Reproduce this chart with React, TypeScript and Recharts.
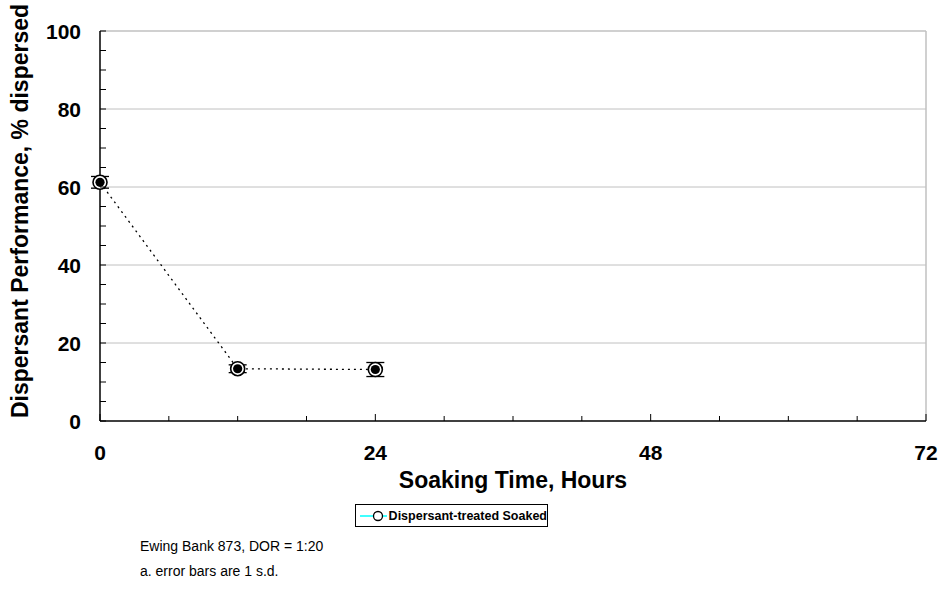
import {
  ComposedChart, Line, XAxis, YAxis, ReferenceLine, ErrorBar, Label,
} from 'recharts';

const hours = [0, 12, 24];
const performance = [61.2, 13.4, 13.2];
const stdDev = [1.5, 1.0, 1.8];

const xTicks = [0, 6, 12, 18, 24, 30, 36, 42, 48, 54, 60, 66, 72];
const xLabels = [0, 24, 48, 72];
const yTicks = [0, 5, 10, 15, 20, 25, 30, 35, 40, 45, 50, 55, 60, 65, 70, 75, 80, 85, 90, 95, 100];
const yLabels = [0, 20, 40, 60, 80, 100];
const gridLines = [20, 40, 60, 80];

const seriesName = 'Dispersant-treated Soaked';
const notes = ['Ewing Bank 873, DOR = 1:20', 'a. error bars are 1 s.d.'];

const data = hours.map((h, i) => ({ x: h, y: performance[i], sd: stdDev[i] }));

const FONT = 'Arial, "Liberation Sans", Helvetica, sans-serif';

const XTick = (props: any) => {
  const { x, y, payload } = props;
  const major = xLabels.includes(payload.value);
  return (
    <g>
      <line x1={x} x2={x} y1={y} y2={y - (major ? 7 : 5)} stroke="#000" strokeWidth={1} />
      {major && (
        <text x={x} y={y + 39} textAnchor="middle" fontFamily={FONT} fontWeight="bold" fontSize={21} fill="#000">
          {payload.value}
        </text>
      )}
    </g>
  );
};

const YTick = (props: any) => {
  const { x, y, payload } = props;
  const major = yLabels.includes(payload.value);
  return (
    <g>
      <line x1={x} x2={x + 6} y1={y} y2={y} stroke="#000" strokeWidth={1} />
      {major && (
        <text x={x - 19} y={y + 7.5} textAnchor="end" fontFamily={FONT} fontWeight="bold" fontSize={21} fill="#000">
          {payload.value}
        </text>
      )}
    </g>
  );
};

const Marker = (props: any) => {
  const { cx, cy } = props;
  if (cx == null || cy == null) return null;
  return (
    <g>
      <circle cx={cx} cy={cy} r={7} fill="#fff" stroke="#000" strokeWidth={1.6} />
      <circle cx={cx} cy={cy} r={4.6} fill="#000" />
    </g>
  );
};

export default function App() {
  return (
    <div style={{ position: 'absolute', left: 0, top: 0, width: 941, height: 609, background: '#fff', fontFamily: FONT }}>
      <ComposedChart width={941} height={609} data={data} margin={{ top: 31, right: 15, bottom: 0, left: 0 }}>
        {gridLines.map(v => (
          <ReferenceLine key={v} y={v} stroke="#c0c0c0" strokeWidth={1} ifOverflow="visible" />
        ))}
        <ReferenceLine y={100} stroke="#c0c0c0" strokeWidth={1.5} />
        <ReferenceLine x={72} stroke="#c0c0c0" strokeWidth={1.5} />
        <XAxis
          dataKey="x" type="number" domain={[0, 72]} ticks={xTicks} interval={0}
          height={188} tickSize={0} tickMargin={0} tick={<XTick />}
          axisLine={{ stroke: '#000', strokeWidth: 1.5 }} tickLine={false}
        >
          <Label
            content={(p: any) => (
              <text x={p.viewBox.x + p.viewBox.width / 2} y={p.viewBox.y + 67} textAnchor="middle"
                fontFamily={FONT} fontWeight="bold" fontSize={23} fill="#000">
                Soaking Time, Hours
              </text>
            )}
          />
        </XAxis>
        <YAxis
          type="number" domain={[0, 100]} ticks={yTicks} interval={0}
          width={100} tickSize={0} tickMargin={0} tick={<YTick />}
          axisLine={{ stroke: '#000', strokeWidth: 1.5 }} tickLine={false}
        >
          <Label
            content={(p: any) => (
              <text x={0} y={0} transform={`translate(28, ${p.viewBox.y + p.viewBox.height / 2 - 15}) rotate(-90)`}
                textAnchor="middle" fontFamily={FONT} fontWeight="bold" fontSize={23} fill="#000">
                Dispersant Performance, % dispersed
              </text>
            )}
          />
        </YAxis>
        <Line
          dataKey="y" name={seriesName} type="linear" stroke="#000" strokeWidth={1.3}
          strokeDasharray="2 4" dot={<Marker />} activeDot={false} isAnimationActive={false}
        >
          <ErrorBar dataKey="sd" direction="y" width={9} stroke="#000" strokeWidth={1.3} />
        </Line>
      </ComposedChart>
      <div style={{
        position: 'absolute', left: 355, top: 504, width: 193, height: 23, boxSizing: 'border-box',
        border: '1px solid #000', display: 'flex', alignItems: 'center', background: '#fff',
      }}>
        <svg width={36} height={20} style={{ marginLeft: 4 }}>
          <line x1={0} x2={36} y1={10} y2={10} stroke="#00ffff" strokeWidth={1.5} />
          <circle cx={18} cy={10} r={4.5} fill="#fff" stroke="#000" strokeWidth={1.3} />
        </svg>
        <span style={{ marginLeft: 2, fontWeight: 'bold', fontSize: 12.5, whiteSpace: 'nowrap' }}>{seriesName}</span>
      </div>
      {notes.map((n, i) => (
        <div key={i} style={{ position: 'absolute', left: 140, top: 538 + i * 25, fontSize: 14, whiteSpace: 'nowrap' }}>
          {n}
        </div>
      ))}
    </div>
  );
}
